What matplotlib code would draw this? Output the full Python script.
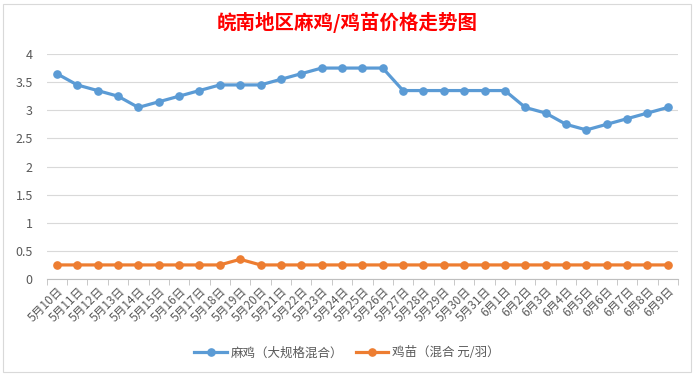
import matplotlib
matplotlib.use("Agg")
import matplotlib.pyplot as plt
from matplotlib.patches import Rectangle

plt.rcParams['font.family'] = ['Noto Sans CJK SC', 'DejaVu Sans']

# Dates 5/10 - 6/9
dates = [f"5月{d}日" for d in range(10, 32)] + [f"6月{d}日" for d in range(1, 10)]

# 麻鸡 (大规格混合)
maji = [3.65, 3.45, 3.35, 3.25, 3.05, 3.15, 3.25, 3.35, 3.45, 3.45,
        3.45, 3.55, 3.65, 3.75, 3.75, 3.75, 3.75, 3.35, 3.35, 3.35,
        3.35, 3.35, 3.35, 3.05, 2.95, 2.75, 2.65, 2.75, 2.85, 2.95, 3.05]
# 鸡苗 (混合 元/羽)
jimiao = [0.25] * 9 + [0.35] + [0.25] * 21

W, H = 694, 376
fig = plt.figure(figsize=(W / 100, H / 100), dpi=100)

# Chart border
fig.patches.append(Rectangle((3 / W, 4 / H), 688 / W, 368 / H, transform=fig.transFigure,
                             fill=False, edgecolor="#d9d9d9", linewidth=0.8))

ax = fig.add_axes([46.7 / W, 1 - 279 / H, (678 - 46.7) / W, (279 - 54) / H])

x = list(range(len(dates)))
ax.plot(x, maji, color="#5B9BD5", linewidth=2.3, marker="o", markersize=5.2,
        label="麻鸡（大规格混合）")
ax.plot(x, jimiao, color="#ED7D31", linewidth=2.3, marker="o", markersize=5.2,
        label="鸡苗（混合 元/羽）")

ax.set_xlim(-0.5, len(dates) - 0.5)
ax.set_ylim(0, 4)
ax.set_yticks([0, 0.5, 1, 1.5, 2, 2.5, 3, 3.5, 4])
ax.set_yticklabels(["0", "0.5", "1", "1.5", "2", "2.5", "3", "3.5", "4"])
ax.grid(axis="y", color="#d9d9d9", linewidth=0.8)
ax.set_axisbelow(True)

for s in ["top", "right", "left"]:
    ax.spines[s].set_visible(False)
ax.spines["bottom"].set_color("#bfbfbf")

ax.set_xticks(x)
ax.set_xticklabels(dates, rotation=45, ha="right", va="top", rotation_mode="anchor",
                   fontsize=8.5, color="#595959")
ax.set_xticks([i - 0.5 for i in range(len(dates) + 1)], minor=True)
ax.tick_params(axis="x", which="major", length=0, pad=4)
ax.tick_params(axis="x", which="minor", length=4, color="#bfbfbf")
ax.tick_params(axis="y", length=0, labelsize=9, labelcolor="#595959", pad=10)

fig.text(347 / W, 1 - 22 / H, "皖南地区麻鸡/鸡苗价格走势图", color="red",
         fontsize=14, fontweight="bold", ha="center", va="center")

fig.legend(loc="center", bbox_to_anchor=(347 / W, 1 - 353 / H), ncol=2, frameon=False,
           fontsize=9, handlelength=2.6, columnspacing=1.0, handletextpad=0.3,
           labelcolor="#595959")

fig.savefig("out.png", dpi=100)
